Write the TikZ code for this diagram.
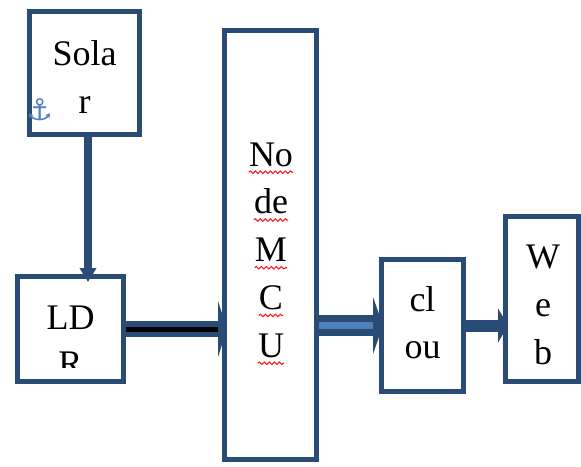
\documentclass[tikz,border=0pt]{standalone}
\usepackage{xcolor}
\usepackage{fontspec}
\setmainfont{Liberation Serif}
\newfontfamily\symfont{DejaVu Sans}
\usepackage{tikz}
\usetikzlibrary{positioning,arrows.meta,decorations.pathmorphing}
\definecolor{boxblue}{HTML}{2A4B75}
\definecolor{coreblue}{HTML}{4F81BD}
\tikzset{
	every matrix/.style={ampersand replacement=\&},
	every node/.style = {font=\fontsize{36}{48}\selectfont, inner sep = 0},
	box/.style = {draw=boxblue, line width=5pt, fill=white},
	lbl/.style = {align=center, text=black},
	word/.style = {text height=24pt, text depth=6pt},
	spell/.style = {draw=red!90, line width=1.1pt, decorate, decoration={snake, amplitude=1.2pt, segment length=5pt}}
}

\begin{document}
\begin{tikzpicture}
		\useasboundingbox (0,0) rectangle (581pt,-466pt);
		\node[box, minimum width=110pt, minimum height=123pt] (solar) at (84.5pt,-73pt) {};
		\node[box, minimum width=106pt, minimum height=105pt, below=137pt of solar, xshift=-14pt] (ldr) {};
		\node[box, minimum width=92pt, minimum height=429pt, right=96pt of ldr, yshift=84pt] (mcu) {};
		\node[box, minimum width=82pt, minimum height=132pt, right=60pt of mcu, yshift=-80.5pt] (cloud) {};
		\node[box, minimum width=73pt, minimum height=165pt, right=37pt of cloud, yshift=26.5pt] (web) {};

		\node[lbl, yshift=-3.7pt] (solartext) at (solar) {Sola\\r};
		\node[lbl, yshift=2.5pt] (cloudtext) at (cloud) {cl\\[-1pt]ou};
		\node[lbl, xshift=1pt, yshift=-5.5pt] (webtext) at (web) {W\\e\\b};
		\node[text=coreblue, font=\symfont\fontsize{30}{30}\selectfont, xshift=-45pt, yshift=-36.5pt] (anchormark) at (solar) {⚓};

		\begin{scope}
			\clip (ldr.north west) rectangle ([yshift=17pt]ldr.south east);
			\node[lbl, yshift=-12pt] (ldrtext) at (ldr) {LD\\[-2pt]R};
		\end{scope}

		\node[matrix, lbl, row sep=17.75pt, yshift=-7.5pt, xshift=0.5pt] (mcutext) at (mcu) {
			\node[word] (no) {No}; \\
			\node[word] (de) {de}; \\
			\node[word] (m) {M}; \\
			\node[word] (c) {C}; \\
			\node[word] (u) {U}; \\
		};
		\path[spell] (no.south west) -- (no.south east);
		\path[spell] (de.south west) -- (de.south east);
		\path[spell] (m.south west) -- (m.south east);
		\path[spell] (c.south west) -- (c.south east);
		\path[spell] (u.south west) -- (u.south east);

		\draw[boxblue, line width=8.5pt, -{Triangle[length=14pt,width=16pt]}, shorten >=-8pt] ([xshift=3.5pt]solar.south) -- ([xshift=3.5pt]solar.south |- ldr.north);
		\draw[boxblue, double=black, double distance=5pt, line width=5.5pt, -{Triangle[length=9pt,width=56pt]}, shorten >=-5pt] (ldr.east) -- (mcu.west |- ldr.east);
		\draw[boxblue, double=coreblue, double distance=7pt, line width=7pt, -{Triangle[length=10pt,width=57pt]}, shorten >=-4pt] (mcu.east |- cloud.west) -- (cloud.west);
		\draw[boxblue, line width=12pt, -{Triangle[length=10pt,width=34pt]}, shorten >=-5pt] (cloud.east) -- (cloud.east -| web.west);
\end{tikzpicture}
\end{document}
